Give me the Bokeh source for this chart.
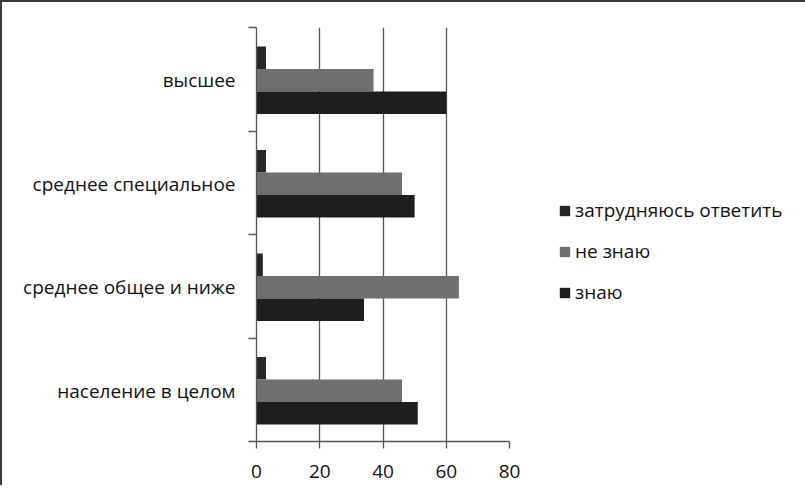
from bokeh.plotting import figure
from bokeh.models import Range1d, FixedTicker, Legend, LegendItem, ColumnDataSource
from bokeh.embed import file_html
from bokeh.resources import INLINE
import numpy as np

categories = ["население в целом", "среднее общее и ниже", "среднее специальное", "высшее"]
series_names = ["затрудняюсь ответить", "не знаю", "знаю"]
zatrud = [3, 2, 3, 3]
ne_znayu = [46, 64, 46, 37]
znayu = [51, 34, 50, 60]
x_ticks = [0, 20, 40, 60, 80]

colors = ["#262626", "#6f6f6f", "#1e1e1e"]
FONT = "Open Sans"
LINE = "#555555"
TXT = "#111111"

p = figure(width=787, height=483, output_backend="svg", toolbar_location=None,
           x_range=Range1d(0, 80), y_range=Range1d(0, 4),
           frame_width=253, frame_height=414,
           min_border_left=254, min_border_right=10, min_border_top=25, min_border_bottom=44)
p.styles = {"border-left": "2px solid #3a3a3a", "border-top": "2px solid #3a3a3a"}
p.outline_line_color = None
p.background_fill_color = "white"
p.border_fill_color = "white"

centers = np.arange(len(categories)) + 0.49
bar_h = 0.217
offsets = [bar_h, 0.0, -bar_h]
series_vals = [zatrud, ne_znayu, znayu]

renderers = []
for name, vals, off, col in zip(series_names, series_vals, offsets, colors):
    src = ColumnDataSource(dict(y=centers + off, right=vals))
    r = p.hbar(y="y", right="right", left=0, height=bar_h, source=src,
               fill_color=col, line_color=None)
    renderers.append((name, r))

# grid
p.xgrid.ticker = FixedTicker(ticks=x_ticks)
p.xgrid.grid_line_color = LINE
p.xgrid.grid_line_width = 1.3
p.ygrid.grid_line_color = None

# x axis
p.xaxis.ticker = FixedTicker(ticks=x_ticks)
p.xaxis.axis_line_color = LINE
p.xaxis.axis_line_width = 1.3
p.xaxis.major_tick_line_color = LINE
p.xaxis.major_tick_line_width = 1.3
p.xaxis.major_tick_out = 7
p.xaxis.major_tick_in = 0
p.xaxis.minor_tick_line_color = None
p.xaxis.major_label_text_font = FONT
p.xaxis.major_label_text_font_size = "19px"
p.xaxis.major_label_text_color = TXT
p.xaxis.major_label_standoff = 16

# y axis
p.yaxis.ticker = FixedTicker(ticks=list(centers), minor_ticks=[0, 1, 2, 3, 4])
p.yaxis.major_label_overrides = {float(c): lab for c, lab in zip(centers, categories)}
p.yaxis.axis_line_color = LINE
p.yaxis.axis_line_width = 1.3
p.yaxis.major_tick_line_color = None
p.yaxis.major_tick_out = 0
p.yaxis.major_tick_in = 0
p.yaxis.minor_tick_line_color = LINE
p.yaxis.minor_tick_line_width = 1.3
p.yaxis.minor_tick_out = 8
p.yaxis.minor_tick_in = 0
p.yaxis.major_label_text_font = FONT
p.yaxis.major_label_text_font_size = "19px"
p.yaxis.major_label_text_color = TXT
p.yaxis.major_label_standoff = 13

legend = Legend(items=[LegendItem(label=n, renderers=[r]) for n, r in renderers],
                location=(49, 136), orientation="vertical",
                glyph_width=13, glyph_height=13, label_standoff=4, spacing=15,
                padding=0, margin=0, border_line_color=None, background_fill_alpha=0,
                label_text_font=FONT, label_text_font_size="19px", label_height=20,
                label_text_color=TXT)
p.add_layout(legend, "right")

open("out.html", "w").write(file_html(p, INLINE))
